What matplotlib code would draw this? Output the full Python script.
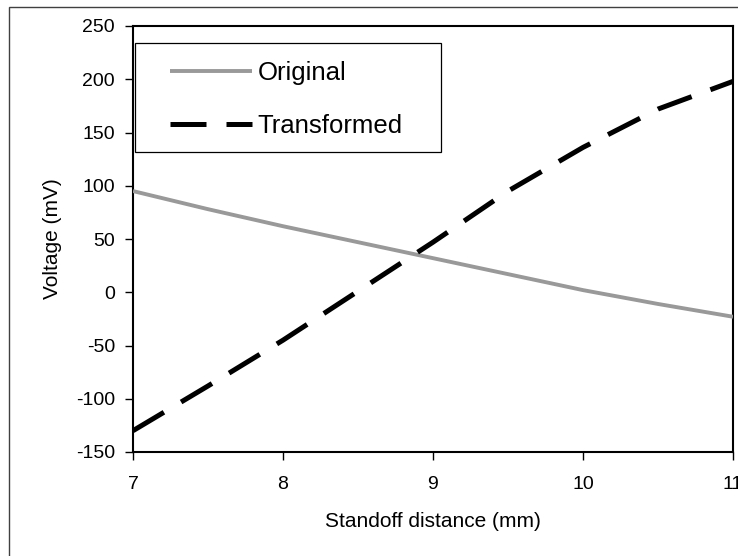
import matplotlib
matplotlib.use("Agg")
import matplotlib.pyplot as plt
from matplotlib.patches import Rectangle

plt.rcParams['font.family'] = ['Liberation Sans', 'DejaVu Sans']
plt.rcParams['axes.unicode_minus'] = False

# Data
distance_mm = [7.0, 7.5, 8.0, 8.5, 9.0, 9.5, 10.0, 10.5, 11.0]
original_mv = [95, 78, 62, 47, 32, 17, 2, -11, -23]
transformed_mv = [-130, -88, -45, 1, 47, 95, 136, 172, 198]
series_names = ["Original", "Transformed"]
x_ticks = [7, 8, 9, 10, 11]
y_ticks = [-150, -100, -50, 0, 50, 100, 150, 200, 250]

W, H = 738, 556
fig = plt.figure(figsize=(W / 100, H / 100), dpi=100)
ax = fig.add_axes([133 / W, 1 - 452 / H, 600 / W, 426 / H])

ax.plot(distance_mm, original_mv, color="#999999", lw=2.8,
        solid_capstyle="butt", label=series_names[0], zorder=3)
ax.plot(distance_mm, transformed_mv, color="black", lw=3.6,
        dashes=(7.2, 4.0), dash_capstyle="butt", label=series_names[1], zorder=3)

ax.set_xlim(7, 11)
ax.set_ylim(-150, 250)
ax.set_xticks(x_ticks)
ax.set_yticks(y_ticks)
ax.tick_params(axis="both", direction="out", length=5.5, width=1.0,
               colors="black", labelsize=14)
ax.tick_params(axis="x", pad=11.5)
ax.tick_params(axis="y", pad=7.5)
for s in ax.spines.values():
    s.set_linewidth(1.5)
    s.set_color("black")

ax.set_xlabel("Standoff distance (mm)", fontsize=15, labelpad=14)
ax.set_ylabel("Voltage (mV)", fontsize=15, labelpad=10)

# Legend frame
fig.patches.append(Rectangle((135 / W, 1 - 152 / H), 306 / W, 109 / H,
                             transform=fig.transFigure, facecolor="white",
                             edgecolor="black", lw=0.9, zorder=5))
leg = fig.legend(loc="upper left", bbox_to_anchor=(170 / W, 1 - 61 / H),
                 frameon=False, fontsize=18.5, borderpad=0, borderaxespad=0,
                 handlelength=3.19, handletextpad=0.23, labelspacing=1.13)
leg.set_zorder(6)

# Figure border
fig.patches.append(Rectangle((9 / W, -0.05), 1.2, 1 - 7 / H + 0.05,
                             transform=fig.transFigure, facecolor="none",
                             edgecolor="#404040", lw=1.0, zorder=0))

fig.savefig("out.png", dpi=100)
